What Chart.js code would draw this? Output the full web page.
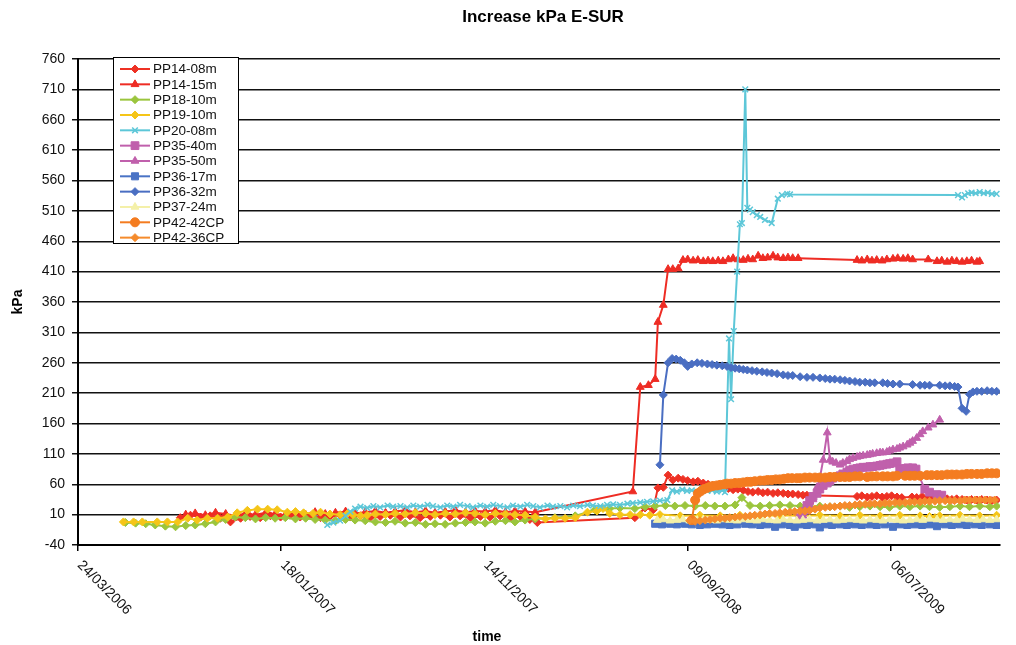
<!DOCTYPE html>
<html>
<head>
<meta charset="utf-8">
<script src="https://cdn.jsdelivr.net/npm/chart.js@4/dist/chart.umd.min.js"></script>
<style>
  html, body { margin: 0; background: #fff; }
  canvas { display: block; }
</style>
</head>
<body>
<canvas id="chart" width="1016" height="645"></canvas>
<script>
// dates are Excel day numbers, values in kPa
const chartTitle = 'Increase kPa E-SUR';
const xTitle = 'time';
const yTitle = 'kPa';
const tickDates = [38800, 39100, 39400, 39700, 40000];
const tickLabels = ['24/03/2006', '18/01/2007', '14/11/2007', '09/09/2008', '06/07/2009'];
const yTicks = [-40, 10, 60, 110, 160, 210, 260, 310, 360, 410, 460, 510, 560, 610, 660, 710, 760];

const seriesNames = ['PP14-08m', 'PP14-15m', 'PP18-10m', 'PP19-10m', 'PP20-08m', 'PP35-40m',
  'PP35-50m', 'PP36-17m', 'PP36-32m', 'PP37-24m', 'PP42-42CP', 'PP42-36CP'];

const pp14_08m = [[38951,5],[38966,9],[38981,6],[38995,8],[39010,4],[39025,-2],[39040,4],[39054,7],[39069,5],[39084,8],[39099,6],[39113,9],[39128,6],[39143,8],[39158,5],[39172,7],[39187,9],[39202,6],[39217,8],[39231,5],[39246,7],[39261,9],[39276,6],[39290,8],[39305,5],[39320,7],[39335,9],[39349,6],[39364,8],[39379,5],[39394,7],[39408,6],[39423,8],[39438,5],[39453,7],[39467,2],[39478,-3],[39622,5],[39637,21],[39649,18],[39656,54],[39664,55],[39671,75],[39678,67],[39686,70],[39693,68],[39700,66],[39708,64],[39715,65],[39723,62],[39730,60],[39737,58],[39745,57],[39752,55],[39760,53],[39767,51],[39774,52],[39782,50],[39789,48],[39796,47],[39804,48],[39811,46],[39818,47],[39826,45],[39833,46],[39841,45],[39848,44],[39855,44],[39863,43],[39870,42],[39876,42],[39950,40],[39957,41],[39965,39],[39972,40],[39979,41],[39987,39],[39994,40],[40001,41],[40009,39],[40016,38],[40031,39],[40038,38],[40046,40],[40053,37],[40060,38],[40068,36],[40075,37],[40083,36],[40090,35],[40097,36],[40105,35],[40112,34],[40119,35],[40127,34],[40134,35],[40142,34],[40149,33],[40156,34]];

const pp14_15m = [[38959,10],[38973,12],[38988,9],[39003,13],[39018,11],[39032,8],[39047,12],[39062,10],[39077,13],[39091,11],[39106,9],[39121,12],[39136,10],[39150,14],[39165,11],[39180,13],[39195,15],[39209,12],[39224,14],[39239,16],[39254,13],[39268,15],[39283,17],[39298,14],[39313,16],[39327,13],[39342,15],[39357,17],[39372,14],[39386,16],[39401,15],[39416,17],[39431,14],[39445,16],[39460,15],[39475,14],[39619,48],[39630,220],[39642,223],[39652,233],[39656,327],[39664,355],[39671,414],[39678,414],[39686,415],[39693,429],[39700,430],[39708,428],[39715,429],[39723,427],[39730,428],[39737,427],[39745,428],[39752,427],[39760,430],[39767,432],[39774,430],[39782,429],[39789,431],[39796,430],[39804,436],[39811,432],[39818,433],[39826,436],[39833,433],[39841,432],[39848,433],[39855,432],[39863,432],[39950,429],[39957,428],[39965,430],[39972,428],[39979,429],[39987,428],[39994,430],[40003,431],[40010,432],[40018,431],[40025,432],[40032,430],[40055,430],[40068,427],[40075,428],[40083,426],[40090,428],[40097,427],[40105,426],[40112,427],[40119,428],[40127,426],[40131,427]];

const pp18_10m = [[38870,-3],[38885,-4],[38900,-5],[38914,-7],[38929,-9],[38944,-10],[38959,-8],[38973,-7],[38988,-5],[39003,-2],[39018,2],[39032,6],[39047,5],[39062,3],[39077,5],[39091,4],[39106,5],[39121,3],[39136,4],[39150,2],[39165,1],[39180,0],[39195,2],[39209,1],[39224,0],[39239,-2],[39254,-3],[39268,-1],[39283,-4],[39298,-3],[39313,-6],[39327,-5],[39342,-6],[39357,-4],[39372,-3],[39386,-2],[39401,-4],[39416,-1],[39431,0],[39445,-2],[39460,1],[39475,3],[39504,5],[39534,8],[39563,18],[39585,20],[39600,21],[39622,20],[39637,23],[39652,24],[39667,25],[39681,24],[39696,25],[39711,24],[39726,25],[39740,24],[39755,24],[39770,26],[39780,38],[39792,25],[39807,24],[39821,25],[39836,26],[39851,25],[39866,24],[39880,23],[39895,24],[39910,23],[39925,24],[39939,22],[39954,23],[39969,24],[39984,23],[39998,22],[40013,24],[40028,23],[40043,24],[40057,23],[40072,22],[40087,23],[40102,24],[40116,23],[40131,24],[40146,23],[40156,24]];

const pp19_10m = [[38867,-2],[38882,-2],[38895,-2],[38917,-2],[38932,-2],[38947,-2],[38962,4],[38976,1],[38991,4],[39006,4],[39021,6],[39035,13],[39050,17],[39065,19],[39080,19],[39094,18],[39109,14],[39121,15],[39133,13],[39147,12],[39158,14],[39172,11],[39187,10],[39198,12],[39206,10],[39217,8],[39227,9],[39239,11],[39254,10],[39268,12],[39283,11],[39298,13],[39313,12],[39327,10],[39342,12],[39357,11],[39372,13],[39386,12],[39401,10],[39416,12],[39431,11],[39445,10],[39460,9],[39475,6],[39490,3],[39504,4],[39519,4],[39534,5],[39552,14],[39566,16],[39575,20],[39585,12],[39600,10],[39615,10],[39630,10],[39644,9],[39659,10],[39689,8],[39718,9],[39748,8],[39777,9],[39807,8],[39836,9],[39866,8],[39895,9],[39925,8],[39954,9],[39984,8],[40013,9],[40043,8],[40057,7],[40065,5],[40072,8],[40102,9],[40131,8],[40156,9]];

const pp20_08m = [[39168,-7],[39177,-3],[39187,0],[39195,8],[39202,15],[39209,20],[39217,23],[39227,21],[39236,24],[39246,22],[39257,25],[39265,23],[39276,24],[39286,22],[39295,25],[39305,23],[39316,26],[39324,24],[39335,22],[39345,25],[39354,23],[39364,26],[39375,24],[39383,22],[39394,25],[39404,23],[39413,26],[39423,24],[39434,22],[39442,25],[39453,23],[39463,26],[39472,24],[39482,22],[39493,25],[39501,23],[39512,24],[39522,22],[39531,25],[39541,24],[39552,26],[39560,25],[39571,24],[39581,26],[39590,27],[39600,26],[39611,28],[39619,29],[39630,30],[39640,31],[39649,32],[39659,33],[39670,34],[39677,50],[39684,48],[39692,51],[39699,49],[39706,50],[39714,48],[39721,51],[39729,49],[39736,50],[39743,48],[39751,50],[39755,47],[39761,300],[39764,200],[39768,312],[39773,410],[39777,488],[39780,490],[39785,710],[39788,515],[39792,512],[39796,508],[39802,503],[39807,500],[39814,495],[39824,490],[39833,530],[39839,536],[39847,538],[39851,537],[40099,536],[40105,532],[40109,536],[40114,539],[40119,540],[40125,539],[40131,541],[40137,539],[40143,540],[40149,538],[40156,538]];

const pp35_40m = [[39866,5],[39870,15],[39876,25],[39880,33],[39885,40],[39891,45],[39895,52],[39900,58],[39906,62],[39910,66],[39914,70],[39920,72],[39925,74],[39929,77],[39935,80],[39939,83],[39944,85],[39950,86],[39954,87],[39959,88],[39965,88],[39969,89],[39973,89],[39979,90],[39984,91],[39988,92],[39994,93],[39998,94],[40003,95],[40009,97],[40013,85],[40021,86],[40025,87],[40032,87],[40037,85],[40050,52],[40057,47],[40068,43],[40075,42]];

const pp35_50m = [[39866,3],[39870,8],[39876,15],[39880,25],[39885,35],[39891,55],[39895,70],[39900,100],[39906,145],[39910,100],[39914,97],[39919,95],[39925,92],[39929,95],[39935,98],[39939,101],[39944,103],[39950,105],[39954,106],[39959,107],[39965,108],[39969,109],[39973,110],[39979,111],[39984,112],[39988,112],[39994,113],[39998,115],[40003,117],[40009,118],[40013,120],[40018,122],[40024,125],[40028,128],[40032,131],[40038,136],[40043,142],[40047,147],[40055,153],[40062,158],[40072,166]];

const pp36_17m = [[39652,-5],[39662,-6],[39674,-5],[39684,-6],[39696,-5],[39706,-6],[39718,-7],[39729,-6],[39740,-5],[39751,-6],[39762,-7],[39773,-6],[39785,-5],[39795,-6],[39807,-7],[39817,-6],[39829,-10],[39839,-6],[39851,-7],[39858,-10],[39866,-6],[39876,-7],[39888,-6],[39895,-11],[39903,-6],[39913,-7],[39925,-6],[39935,-7],[39947,-6],[39957,-7],[39969,-6],[39979,-7],[39991,-6],[40003,-10],[40013,-6],[40024,-7],[40035,-6],[40046,-7],[40057,-6],[40068,-9],[40080,-6],[40090,-7],[40102,-6],[40112,-7],[40124,-6],[40134,-7],[40146,-6],[40156,-7]];

const pp36_32m = [[39659,92],[39664,207],[39671,260],[39677,267],[39683,266],[39689,264],[39695,260],[39700,254],[39706,258],[39714,260],[39721,259],[39729,258],[39736,257],[39743,256],[39751,255],[39758,254],[39764,252],[39770,251],[39776,250],[39782,249],[39788,248],[39795,247],[39802,246],[39810,245],[39817,244],[39824,243],[39832,242],[39841,240],[39848,239],[39855,239],[39866,237],[39876,236],[39885,236],[39895,235],[39903,234],[39910,233],[39917,233],[39925,232],[39932,231],[39939,230],[39947,229],[39954,228],[39962,228],[39969,227],[39976,227],[39988,227],[39995,226],[40003,225],[40013,225],[40032,224],[40043,223],[40050,223],[40057,223],[40072,223],[40080,222],[40087,222],[40094,221],[40099,220],[40105,185],[40111,180],[40116,208],[40121,212],[40127,213],[40134,213],[40142,214],[40149,213],[40156,213]];

const pp37_24m = [[39655,1],[39664,2],[39674,0],[39684,1],[39693,2],[39703,0],[39714,1],[39723,2],[39733,1],[39743,0],[39752,2],[39762,1],[39773,0],[39782,2],[39792,1],[39802,0],[39811,2],[39821,1],[39832,0],[39841,2],[39851,1],[39861,0],[39870,1],[39880,2],[39891,0],[39900,1],[39910,2],[39920,0],[39929,1],[39939,2],[39950,1],[39959,0],[39969,2],[39979,1],[39988,0],[39998,2],[40009,1],[40018,0],[40028,1],[40038,2],[40047,1],[40057,3],[40068,2],[40077,1],[40087,2],[40097,1],[40106,3],[40116,2],[40127,1],[40136,2],[40146,1],[40156,2]];

const pp42_42cp = [[39706,1],[39711,34],[39715,45],[39720,49],[39724,52],[39729,54],[39733,56],[39737,57],[39743,58],[39748,59],[39754,60],[39758,61],[39764,61],[39770,62],[39776,62],[39782,63],[39788,64],[39793,64],[39799,65],[39807,66],[39813,66],[39818,67],[39824,67],[39830,68],[39836,68],[39842,69],[39848,70],[39854,70],[39861,70],[39866,70],[39873,71],[39880,71],[39888,71],[39895,71],[39903,71],[39910,72],[39917,72],[39925,72],[39932,72],[39939,72],[39947,73],[39954,73],[39965,72],[39972,73],[39979,73],[39988,73],[39995,73],[40003,73],[40009,74],[40021,74],[40028,74],[40035,74],[40043,74],[40053,75],[40060,75],[40068,75],[40075,75],[40083,76],[40090,76],[40097,76],[40105,76],[40112,77],[40119,77],[40127,77],[40134,77],[40142,78],[40149,78],[40156,78]];

const pp42_36cp = [[39703,0],[39711,-1],[39718,0],[39726,1],[39733,2],[39740,3],[39748,4],[39755,4],[39762,5],[39770,6],[39777,7],[39785,7],[39792,8],[39799,9],[39807,10],[39814,11],[39821,12],[39829,12],[39836,13],[39844,14],[39851,14],[39858,15],[39866,16],[39873,16],[39880,17],[39888,19],[39895,21],[39903,22],[39910,23],[39917,23],[39925,24],[39932,25],[39939,25],[39947,26],[39954,27],[39962,27],[39969,28],[39976,28],[39984,28],[39991,29],[39998,29],[40006,30],[40013,30],[40021,30],[40028,31],[40035,31],[40043,31],[40050,32],[40057,32],[40065,32],[40072,33],[40080,33],[40087,33],[40094,33],[40102,33],[40109,34],[40116,34],[40124,34],[40131,34],[40139,34],[40146,34],[40153,34]];

const seriesData = [pp14_08m, pp14_15m, pp18_10m, pp19_10m, pp20_08m, pp35_40m,
  pp35_50m, pp36_17m, pp36_32m, pp37_24m, pp42_42cp, pp42_36cp];

// looks (colour, marker, marker size)
const seriesStyle = [
  ['#EE3124', 'rectRot', 4],
  ['#EE2C24', 'triangle', 4.5],
  ['#9BC53D', 'rectRot', 4],
  ['#F5C518', 'rectRot', 4],
  ['#5DC7D8', 'crossRot', 4],
  ['#C060AC', 'rect', 5.5],
  ['#C060AC', 'triangle', 4.5],
  ['#4A73C5', 'rect', 5],
  ['#4A6EC2', 'rectRot', 4],
  ['#F4F0A8', 'triangle', 4.5],
  ['#F47C20', 'circle', 4.5],
  ['#F58B2C', 'rectRot', 4]
];

const FONT = '"Liberation Sans", Arial, sans-serif';
Chart.defaults.font.family = FONT;

const datasets = seriesNames.map((name, i) => {
  const [color, shape, size] = seriesStyle[i];
  return {
    label: name,
    data: seriesData[i],
    borderColor: color,
    backgroundColor: color,
    borderWidth: 2,
    pointStyle: shape,
    pointRadius: size,
    pointBorderWidth: shape === 'crossRot' ? 1.5 : 1,
    pointBackgroundColor: color,
    pointBorderColor: color,
    tension: 0,
    order: seriesNames.length - i
  };
});

// title, rotated date labels and the boxed legend, drawn on top
const excelBits = {
  id: 'excelBits',
  afterDraw(chart) {
    const { ctx, chartArea } = chart;
    const xs = chart.scales.x;
    ctx.save();
    ctx.fillStyle = '#000';
    ctx.textAlign = 'center';
    ctx.textBaseline = 'middle';
    ctx.font = 'bold 17px ' + FONT;
    ctx.fillText(chartTitle, 543, 17);
    ctx.font = 'bold 14px ' + FONT;
    ctx.fillText(xTitle, 487, 637);

    ctx.font = '14px ' + FONT;
    ctx.textAlign = 'left';
    ctx.fillStyle = '#111';
    tickDates.forEach((d, i) => {
      const px = xs.getPixelForValue(d);
      ctx.save();
      ctx.translate(px + 1.5, chartArea.bottom + 18);
      ctx.rotate(Math.PI / 4);
      ctx.fillText(tickLabels[i], 0, 0);
      ctx.restore();
    });

    // legend
    const lx = 113, ly = 57, lw = 125, lh = 186;
    ctx.fillStyle = '#fff';
    ctx.fillRect(lx, ly, lw, lh);
    ctx.strokeStyle = '#000';
    ctx.lineWidth = 1;
    ctx.strokeRect(lx + 0.5, ly + 0.5, lw, lh);
    ctx.font = '13.5px ' + FONT;
    chart.data.datasets.forEach((ds, i) => {
      const y = ly + 12 + i * 15.33;
      ctx.strokeStyle = ds.borderColor;
      ctx.lineWidth = 2;
      ctx.beginPath();
      ctx.moveTo(lx + 7, y);
      ctx.lineTo(lx + 37, y);
      ctx.stroke();
      ctx.fillStyle = ds.borderColor;
      ctx.lineWidth = ds.pointBorderWidth;
      if (Chart.helpers && Chart.helpers.drawPoint) {
        Chart.helpers.drawPoint(ctx, { pointStyle: ds.pointStyle, radius: ds.pointRadius, borderWidth: ds.pointBorderWidth, rotation: 0 }, lx + 22, y);
      }
      ctx.fillStyle = '#111';
      ctx.fillText(ds.label, lx + 40, y + 0.5);
    });
    ctx.restore();
  }
};

new Chart(document.getElementById('chart'), {
  type: 'line',
  data: { datasets },
  options: {
    responsive: false,
    animation: false,
    layout: { padding: { top: 59, right: 16, bottom: 0, left: 0 } },
    plugins: {
      legend: { display: false },
      title: { display: false },
      tooltip: { enabled: false }
    },
    scales: {
      x: {
        type: 'linear',
        min: 38800,
        max: 40161,
        afterBuildTicks: s => { s.ticks = tickDates.map(v => ({ value: v })); },
        afterFit: s => { s.height = 100; },
        ticks: { display: false },
        grid: { drawOnChartArea: false, drawTicks: true, tickLength: 6, color: '#000', lineWidth: 1.5 },
        border: { color: '#000', width: 2 }
      },
      y: {
        min: -40,
        max: 760,
        afterBuildTicks: s => { s.ticks = yTicks.map(v => ({ value: v })); },
        afterFit: s => { s.width = 78; },
        ticks: { color: '#111', font: { size: 14 }, padding: 7 },
        grid: { color: '#111', lineWidth: 1.5, tickLength: 6 },
        border: { color: '#000', width: 2 },
        title: { display: true, text: yTitle, color: '#000', font: { size: 14, weight: 'bold' }, padding: { top: 10 } }
      }
    }
  },
  plugins: [excelBits]
});
</script>
</body>
</html>
